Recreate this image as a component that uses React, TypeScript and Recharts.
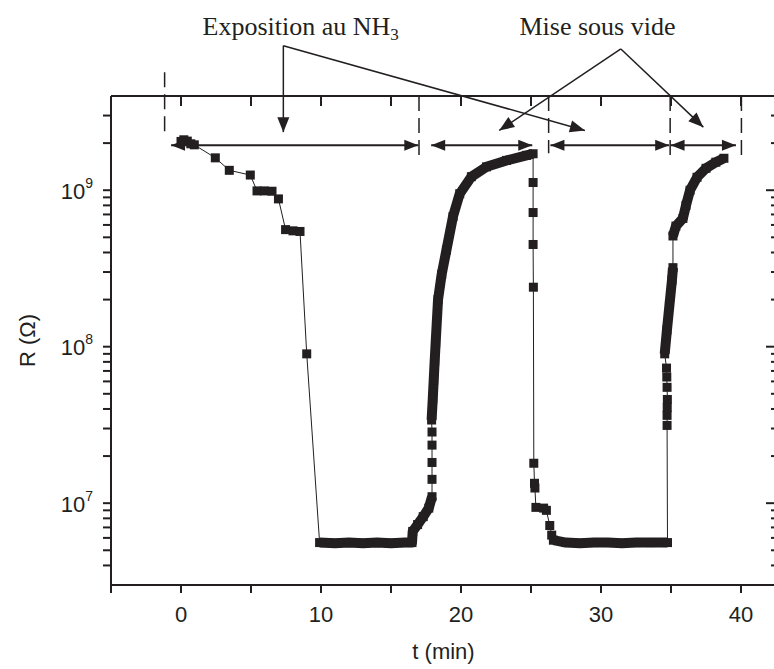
import React from 'react';
import { LineChart, Line, XAxis, YAxis, ReferenceLine, ReferenceDot } from 'recharts';

const INK = '#231f20';
const SANS = '"Liberation Sans", Arial, sans-serif';
const SERIF = '"Liberation Serif", "Times New Roman", serif';

// t (min) and R (ohm) in acquisition order
const decayT = [0, 0.2, 0.45, 0.7, 0.95, 2.45, 3.45, 4.95, 5.43, 5.95, 6.5, 6.96, 7.47, 8.0, 8.5, 8.98];
const decayR = [2.05e9, 2.1e9, 2.06e9, 1.98e9, 1.95e9, 1.61e9, 1.34e9, 1.25e9, 9.9e8, 9.9e8, 9.85e8, 8.8e8, 5.6e8, 5.5e8, 5.45e8, 9.0e7];
const base1T = [9.9, 11, 12, 13, 14, 15, 16, 16.5, 16.55, 16.9, 17.3, 17.7, 17.93];
const base1R = [5.6e6, 5.55e6, 5.6e6, 5.55e6, 5.6e6, 5.55e6, 5.6e6, 5.6e6, 6.6e6, 7.3e6, 8.2e6, 9.3e6, 1.1e7];
const steps1T = [17.93, 17.93, 17.93, 17.93];
const steps1R = [1.42e7, 1.82e7, 2.35e7, 2.85e7];
const rise1T = [17.9, 17.98, 18.05, 18.12, 18.19, 18.36, 18.62, 18.96, 19.43, 19.91, 20.74, 21.82, 23.25, 24.68, 25.15];
const rise1R = [3.4e7, 4.6e7, 6.1e7, 8.1e7, 1.06e8, 2.0e8, 2.9e8, 4.15e8, 6.8e8, 9.5e8, 1.22e9, 1.41e9, 1.55e9, 1.67e9, 1.71e9];
const drop1T = [25.15, 25.15, 25.15, 25.17, 25.2, 25.25, 25.28, 25.35, 25.9, 26.1, 26.34, 26.48];
const drop1R = [1.12e9, 7.2e8, 4.5e8, 2.4e8, 1.8e7, 1.34e7, 1.25e7, 9.4e6, 9.3e6, 9.0e6, 7.2e6, 6.25e6];
const base2T = [26.6, 27.5, 28.5, 29.5, 30.5, 31.5, 32.5, 33.5, 34.75];
const base2R = [5.8e6, 5.6e6, 5.55e6, 5.6e6, 5.6e6, 5.55e6, 5.6e6, 5.6e6, 5.6e6];
const steps2T = [34.72, 34.72, 34.73, 34.74, 34.72, 34.7, 34.68];
const steps2R = [3.14e7, 3.64e7, 4.08e7, 4.6e7, 5.5e7, 6.4e7, 7.3e7];
const rise2aT = [34.55, 34.71, 34.89, 35.07, 35.14];
const rise2aR = [9.0e7, 1.28e8, 1.85e8, 2.67e8, 3.2e8];
const rise2bT = [35.14, 35.35, 35.85, 36.07, 36.36, 36.86, 37.5, 38.2, 38.78];
const rise2bR = [5.1e8, 5.9e8, 6.6e8, 8.0e8, 1.0e9, 1.21e9, 1.38e9, 1.51e9, 1.6e9];

// dense runs are drawn as a thick band, isolated readings as squares
const segments = [
  { t: decayT, r: decayR, thick: false },
  { t: base1T, r: base1R, thick: true },
  { t: steps1T, r: steps1R, thick: false },
  { t: rise1T, r: rise1R, thick: true },
  { t: drop1T, r: drop1R, thick: false },
  { t: base2T, r: base2R, thick: true },
  { t: steps2T, r: steps2R, thick: false },
  { t: rise2aT, r: rise2aR, thick: true },
  { t: rise2bT, r: rise2bR, thick: true },
];

// dashed phase marks (t, top R, bottom R)
const markT = [-1.17, 17.0, 26.26, 34.94, 40.03];
const markTop = [5.67e9, 4e9, 4e9, 4e9, 4e9];
const markBottom = [2.19e9, 1.63e9, 1.72e9, 1.68e9, 1.68e9];

// double arrows spanning each phase
const spanFrom = [-0.71, 17.87, 26.39, 34.97];
const spanTo = [16.95, 25.09, 34.87, 39.64];
const spanR = 1.935e9;

// annotation labels and their pointers
const noteText = ['Exposition au NH', 'Mise sous vide'];
const noteSub = ['3', ''];
const noteT = [8.55, 29.75];
const noteR = 9.85e9;
const pointerFromT = [7.31, 7.31, 31.42, 31.42];
const pointerFromR = [8.39e9, 8.39e9, 7.99e9, 7.99e9];
const pointerToT = [7.31, 28.85, 22.73, 37.31];
const pointerToR = [2.35e9, 2.41e9, 2.41e9, 2.53e9];

const X_DOMAIN = [-5, 42.5];
const Y_DOMAIN = [3e6, 4e9];
const xTicks = [-5, 0, 5, 10, 15, 20, 25, 30, 35, 40];
const yTicks = [
  4e6, 5e6, 6e6, 7e6, 8e6, 9e6,
  1e7, 2e7, 3e7, 4e7, 5e7, 6e7, 7e7, 8e7, 9e7,
  1e8, 2e8, 3e8, 4e8, 5e8, 6e8, 7e8, 8e8, 9e8,
  1e9, 2e9, 3e9,
];

const toPoints = (t: number[], r: number[]) => t.map((v, i) => ({ t: v, r: r[i] }));
const trace = segments.flatMap((s) => toPoints(s.t, s.r));
const isDecade = (v: number) => Math.abs(Math.log10(v) - Math.round(Math.log10(v))) < 1e-9;

const headPoints = (x1: number, y1: number, x2: number, y2: number, len = 14, half = 5.5) => {
  const L = Math.hypot(x2 - x1, y2 - y1) || 1;
  const ux = (x2 - x1) / L;
  const uy = (y2 - y1) / L;
  const bx = x2 - ux * len;
  const by = y2 - uy * len;
  return `${x2},${y2} ${bx - uy * half},${by + ux * half} ${bx + uy * half},${by - ux * half}`;
};

const SpanArrow = (p: any) => (
  <g>
    <line x1={p.x1} y1={p.y1} x2={p.x2} y2={p.y2} stroke={INK} strokeWidth={2} />
    <polygon points={headPoints(p.x1, p.y1, p.x2, p.y2)} fill={INK} />
    <polygon points={headPoints(p.x2, p.y2, p.x1, p.y1)} fill={INK} />
  </g>
);

const Pointer = (p: any) => (
  <g>
    <line x1={p.x1} y1={p.y1} x2={p.x2} y2={p.y2} stroke={INK} strokeWidth={1.5} />
    <polygon points={headPoints(p.x1, p.y1, p.x2, p.y2, 15, 6)} fill={INK} />
  </g>
);

// inward ticks on the top and right edges of the frame
const topTickShape = (p: any) => {
  const top = Math.min(p.y1, p.y2);
  return <line x1={p.x1} x2={p.x1} y1={top} y2={top + 10} stroke={INK} strokeWidth={2} />;
};

const rightTickShape = (major: boolean) => (p: any) => {
  const right = Math.max(p.x1, p.x2);
  return <line x1={right} x2={right - (major ? 10 : 5)} y1={p.y1} y2={p.y1} stroke={INK} strokeWidth={2} />;
};

const BottomLabel = (p: any) => {
  const v = p.payload.value;
  if (v % 10 !== 0) return <g />;
  return (
    <text x={p.x} y={p.y + 29} textAnchor="middle" fontFamily={SANS} fontSize={22} fill={INK}>
      {v}
    </text>
  );
};

const LeftLabel = (p: any) => {
  const v = p.payload.value;
  if (!isDecade(v)) return <g />;
  return (
    <text x={p.x - 10} y={p.y + 8.5} textAnchor="end" fontFamily={SANS} fontSize={22} fill={INK}>
      10
      <tspan dy={-11} fontSize={14}>
        {Math.round(Math.log10(v))}
      </tspan>
    </text>
  );
};

const Square = (p: any) => {
  if (p.cx == null || p.cy == null) return <g key={`sq-${p.index}`} />;
  return <rect key={`sq-${p.index}`} x={p.cx - 4.5} y={p.cy - 4.5} width={9} height={9} fill={INK} />;
};

export default function App() {
  return (
    <div style={{ position: 'absolute', left: 0, top: 0, background: '#fff' }}>
      <LineChart width={777} height={669} margin={{ top: 95, right: 0, bottom: 0, left: 0 }}>
        <XAxis
          xAxisId="b"
          type="number"
          dataKey="t"
          domain={X_DOMAIN}
          allowDataOverflow
          ticks={xTicks}
          interval={0}
          height={84}
          tickSize={8}
          tickMargin={0}
          tickLine={{ stroke: INK, strokeWidth: 2 }}
          axisLine={{ stroke: INK, strokeWidth: 2 }}
          tick={<BottomLabel />}
          label={{
            content: (p: any) => (
              <text
                x={p.viewBox.x + p.viewBox.width / 2}
                y={p.viewBox.y + 74}
                textAnchor="middle"
                fontFamily={SANS}
                fontSize={22}
                fill={INK}
              >
                t (min)
              </text>
            ),
          }}
        />
        <XAxis
          xAxisId="t"
          orientation="top"
          type="number"
          dataKey="t"
          domain={X_DOMAIN}
          allowDataOverflow
          height={1}
          tick={false}
          tickLine={false}
          axisLine={{ stroke: INK, strokeWidth: 2 }}
        />
        <YAxis
          yAxisId="l"
          type="number"
          scale="log"
          domain={Y_DOMAIN}
          allowDataOverflow
          ticks={yTicks}
          interval={0}
          width={111}
          tickSize={8}
          tickMargin={0}
          tickLine={{ stroke: INK, strokeWidth: 2 }}
          axisLine={{ stroke: INK, strokeWidth: 2 }}
          tick={<LeftLabel />}
          label={{
            content: (p: any) => {
              const cx = p.viewBox.x + 35;
              const cy = p.viewBox.y + p.viewBox.height / 2;
              return (
                <text
                  x={cx}
                  y={cy}
                  transform={`rotate(-90, ${cx}, ${cy})`}
                  textAnchor="middle"
                  fontFamily={SANS}
                  fontSize={22}
                  fill={INK}
                >
                  R (Ω)
                </text>
              );
            },
          }}
        />
        <YAxis
          yAxisId="r"
          orientation="right"
          type="number"
          scale="log"
          domain={Y_DOMAIN}
          allowDataOverflow
          width={1}
          tick={false}
          tickLine={false}
          axisLine={{ stroke: INK, strokeWidth: 2 }}
        />

        {xTicks.map((t) => (
          <ReferenceLine key={`xt-${t}`} xAxisId="b" yAxisId="l" x={t} ifOverflow="visible" shape={topTickShape} />
        ))}
        {yTicks.map((v) => (
          <ReferenceLine
            key={`yt-${v}`}
            xAxisId="b"
            yAxisId="l"
            y={v}
            ifOverflow="visible"
            shape={rightTickShape(isDecade(v))}
          />
        ))}

        {markT.map((t, i) => (
          <ReferenceLine
            key={`mark-${i}`}
            xAxisId="b"
            yAxisId="l"
            ifOverflow="visible"
            segment={[{ x: t, y: markTop[i] }, { x: t, y: markBottom[i] }]}
            stroke={INK}
            strokeWidth={1.5}
            strokeDasharray="15 7"
          />
        ))}
        {spanFrom.map((t, i) => (
          <ReferenceLine
            key={`span-${i}`}
            xAxisId="b"
            yAxisId="l"
            ifOverflow="visible"
            segment={[{ x: t, y: spanR }, { x: spanTo[i], y: spanR }]}
            shape={SpanArrow}
          />
        ))}
        {pointerFromT.map((t, i) => (
          <ReferenceLine
            key={`ptr-${i}`}
            xAxisId="b"
            yAxisId="l"
            ifOverflow="visible"
            segment={[{ x: t, y: pointerFromR[i] }, { x: pointerToT[i], y: pointerToR[i] }]}
            shape={Pointer}
          />
        ))}
        {noteText.map((txt, i) => (
          <ReferenceDot
            key={`note-${i}`}
            xAxisId="b"
            yAxisId="l"
            ifOverflow="visible"
            x={noteT[i]}
            y={noteR}
            shape={(p: any) => (
              <text x={p.cx} y={p.cy} textAnchor="middle" fontFamily={SERIF} fontSize={26} fill={INK}>
                {txt}
                {noteSub[i] && (
                  <tspan dy={5} fontSize={17}>
                    {noteSub[i]}
                  </tspan>
                )}
              </text>
            )}
          />
        ))}

        {segments
          .filter((s) => s.thick)
          .map((s, i) => (
            <Line
              key={`band-${i}`}
              xAxisId="b"
              yAxisId="l"
              data={toPoints(s.t, s.r)}
              dataKey="r"
              type="linear"
              stroke={INK}
              strokeWidth={10}
              strokeLinejoin="round"
              dot={false}
              activeDot={false}
              isAnimationActive={false}
            />
          ))}
        <Line
          xAxisId="b"
          yAxisId="l"
          data={trace}
          dataKey="r"
          type="linear"
          stroke={INK}
          strokeWidth={1}
          dot={Square}
          activeDot={false}
          isAnimationActive={false}
        />
      </LineChart>
    </div>
  );
}
